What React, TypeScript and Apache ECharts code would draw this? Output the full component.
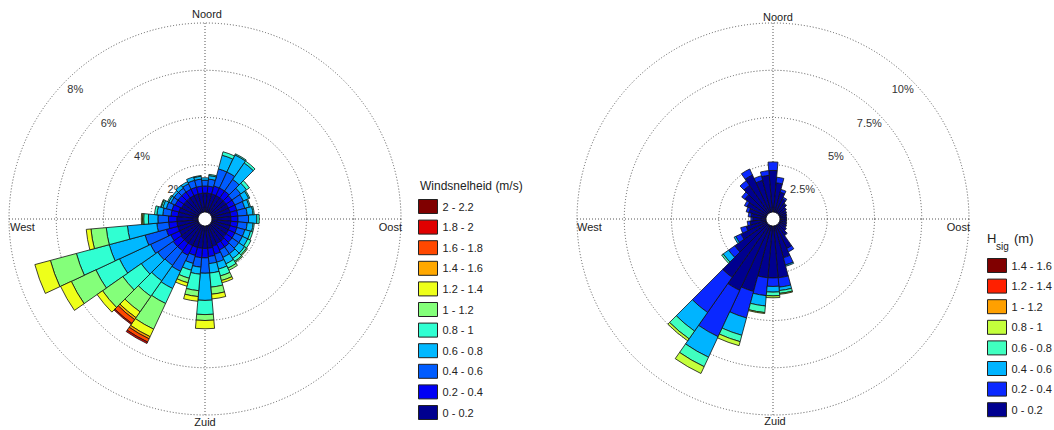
import React, { useEffect, useRef } from "react";
import * as echarts from "echarts";

// 36 direction sectors, clockwise from North (degrees)
const directions = ["0","10","20","30","40","50","60","70","80","90","100","110","120","130","140","150","160","170","180","190","200","210","220","230","240","250","260","270","280","290","300","310","320","330","340","350"];

// ---------- Wind speed rose (percent per direction) ----------
const windClasses = ["0 - 0.2","0.2 - 0.4","0.4 - 0.6","0.6 - 0.8","0.8 - 1","1 - 1.2","1.2 - 1.4","1.4 - 1.6","1.6 - 1.8","1.8 - 2","2 - 2.2"];
const windColors = ["#00008f","#0000f5","#005cff","#00b8ff","#30ffd2","#84ff7a","#eeff1a","#ffa800","#ff4800","#e00000","#800000"];
const wind_0_02   = [.8,.8,.8,.8,.8,.8,.8,.8,.8,.8,.8,.8,.8,.8,.85,.85,.9,.95,.95,.95,.95,.95,.95,.95,.9,.9,.9,.9,.85,.85,.8,.8,.8,.8,.8,.8];
const wind_02_04  = [.3,.3,.35,.35,.35,.3,.3,.3,.3,.3,.3,.3,.3,.3,.3,.3,.35,.35,.4,.4,.35,.45,.4,.4,.4,.5,.35,.35,.3,.3,.3,.3,.3,.3,.3,.3];
const wind_04_06  = [.25,.3,.75,.75,.6,.45,.4,.35,.4,.45,.4,.35,.35,.35,.35,.35,.35,.3,.65,.4,.35,.75,.75,.8,.95,.93,.5,.45,.35,.25,.2,.2,.2,.25,.3,.3];
const wind_06_08  = [.1,.15,.6,.8,.85,.3,.25,.2,.25,.35,.25,.25,.25,.3,.25,.3,.3,.4,1.15,.3,.3,.8,.8,.85,1.45,1.57,1.25,.4,.25,.15,.1,.1,.15,.1,.15,.12];
const wind_08_1   = [0,.05,.15,.05,.1,.15,.05,.05,.05,.1,.05,.1,.15,.1,.15,.2,.3,.6,.6,.7,.35,.7,.8,.95,1.1,1.44,.9,.2,.1,.07,.05,0,0,0,0,.03];
const wind_1_12   = [0,0,0,0,0,0,0,0,0,0,0,0,0,.05,.05,.1,.2,.3,.25,.25,.2,1.2,.8,1.05,1.15,1.14,.65,.05,0,.03,0,0,0,0,0,0];
const wind_12_14  = [0,0,0,0,0,0,0,0,0,0,0,0,0,0,0,0,.1,.2,.35,.2,.15,.35,.3,.28,.5,.68,.2,.05,0,0,0,0,0,0,0,0];
const wind_14_16  = [0,0,0,0,0,0,0,0,0,0,0,0,0,0,0,0,0,0,0,0,0,.1,.1,0,0,0,0,0,0,0,0,0,0,0,0,0];
const wind_16_18  = [0,0,0,0,0,0,0,0,0,0,0,0,0,0,0,0,0,0,0,0,0,.15,.2,0,0,0,0,0,0,0,0,0,0,0,0,0];
const wind_18_2   = [0,0,0,0,0,0,0,0,0,0,0,0,0,0,0,0,0,0,0,0,0,.07,.05,0,0,0,0,0,0,0,0,0,0,0,0,0];
const wind_2_22   = [0,0,0,0,0,0,0,0,0,0,0,0,0,0,0,0,0,0,0,0,0,0,0,0,0,0,0,0,0,0,0,0,0,0,0,0];
const windTicks = [2, 4, 6, 8];
const windMax = 8;

// ---------- Significant wave height rose ----------
const hsigClasses = ["0 - 0.2","0.2 - 0.4","0.4 - 0.6","0.6 - 0.8","0.8 - 1","1 - 1.2","1.2 - 1.4","1.4 - 1.6"];
const hsigColors = ["#000090","#0a28ff","#00b4ff","#40ffc0","#c4ff3c","#ffa000","#ff2000","#800000"];
const hsig_0_02  = [2.2,1.55,1.1,.8,.6,.5,.42,.38,.35,.35,.35,.38,.42,.5,.65,1.35,1.75,2.75,2.75,2.75,3.6,3.8,3.4,2.1,1.5,1.1,.85,.7,.8,.95,1.15,1.45,1.8,2.2,1.75,1.95];
const hsig_02_04 = [.45,.3,.15,.1,.05,0,0,0,0,0,0,0,0,0,.05,.2,.4,.5,.45,.95,1.45,2.7,2.27,.4,.3,.3,.15,.1,.15,.15,.15,.2,.3,.35,.25,.25];
const hsig_04_06 = [0,0,0,0,0,0,0,0,0,0,0,0,0,0,0,0,.07,.18,.3,.55,.95,1.2,1.2,.35,.1,0,0,0,0,0,0,0,0,0,0,0];
const hsig_06_08 = [0,0,0,0,0,0,0,0,0,0,0,0,0,0,0,0,0,.15,.2,.35,.35,.55,.5,.1,0,0,0,0,0,0,0,0,0,0,0,0];
const hsig_08_1  = [0,0,0,0,0,0,0,0,0,0,0,0,0,0,0,0,0,.05,.1,.05,.22,.4,.13,0,0,0,0,0,0,0,0,0,0,0,0,0];
const hsig_1_12  = [0,0,0,0,0,0,0,0,0,0,0,0,0,0,0,0,0,0,0,0,0,0,0,0,0,0,0,0,0,0,0,0,0,0,0,0];
const hsig_12_14 = [0,0,0,0,0,0,0,0,0,0,0,0,0,0,0,0,0,0,0,0,0,0,0,0,0,0,0,0,0,0,0,0,0,0,0,0];
const hsig_14_16 = [0,0,0,0,0,0,0,0,0,0,0,0,0,0,0,0,0,0,0,0,0,0,0,0,0,0,0,0,0,0,0,0,0,0,0,0];
const hsigTicks = [2.5, 5, 7.5, 10];
const hsigMax = 10;

const windSeries = [wind_0_02, wind_02_04, wind_04_06, wind_06_08, wind_08_1, wind_1_12, wind_12_14, wind_14_16, wind_16_18, wind_18_2, wind_2_22];
const hsigSeries = [hsig_0_02, hsig_02_04, hsig_04_06, hsig_06_08, hsig_08_1, hsig_1_12, hsig_12_14, hsig_14_16];

const FONT = "'Liberation Sans', Arial, Helvetica, sans-serif";
const TXT = "#222";
const INNER = 7;
const OUTER = 196;
const LEFT_C = [205, 219];
const RIGHT_C = [773, 219];

export default function App() {
  const ref = useRef<HTMLDivElement>(null);

  useEffect(() => {
    if (!ref.current) return;
    const chart = echarts.init(ref.current, undefined, { renderer: "svg" });

    const labelMap: Record<string, string> = {};
    const series: any[] = [];
    windClasses.forEach((name, i) => {
      const id = "w" + i;
      labelMap[id] = name;
      series.push({
        type: "bar",
        name: id,
        coordinateSystem: "polar",
        polarIndex: 0,
        stack: "wind",
        barCategoryGap: "0%",
        silent: true,
        data: windSeries[i].map((v) => (v > 0 ? v : null)),
        itemStyle: { color: windColors[i], borderColor: "#111", borderWidth: 0.8 },
      });
    });
    hsigClasses.forEach((name, i) => {
      const id = "h" + i;
      labelMap[id] = name;
      series.push({
        type: "bar",
        name: id,
        coordinateSystem: "polar",
        polarIndex: 1,
        stack: "hsig",
        barCategoryGap: "0%",
        silent: true,
        data: hsigSeries[i].map((v) => (v > 0 ? v : null)),
        itemStyle: { color: hsigColors[i], borderColor: "#111", borderWidth: 0.8 },
      });
    });

    const hidden = {
      axisLine: { show: false },
      axisTick: { show: false },
      axisLabel: { show: false },
      splitLine: { show: false },
    };
    const dotted = { show: true, lineStyle: { type: [1, 2], color: "#555", width: 1 } };

    const radiusLabels = (c: number[], ticks: number[], max: number, deg: number) =>
      ticks.map((v) => {
        const r = INNER + (v / max) * (OUTER - INNER) - 12.5;
        const a = (deg * Math.PI) / 180;
        return {
          type: "text",
          z: 1,
          x: c[0] + r * Math.cos(a),
          y: c[1] - r * Math.sin(a),
          style: { text: v + "%", font: `11px ${FONT}`, fill: "#333", align: "center", verticalAlign: "middle" },
        };
      });

    const txt = (text: string, x: number, y: number, align: string, size = 11) => ({
      type: "text",
      z: 50,
      x,
      y,
      style: { text, font: `${size}px ${FONT}`, fill: TXT, align, verticalAlign: "middle" },
    });

    const legendBase = {
      orient: "vertical",
      itemWidth: 19,
      itemHeight: 14,
      itemGap: 5.6,
      padding: 0,
      icon: "rect",
      selectedMode: false,
      formatter: (n: string) => labelMap[n],
      textStyle: { fontSize: 11, color: TXT, fontFamily: FONT },
      itemStyle: { borderColor: "#222", borderWidth: 1 },
    };

    chart.setOption({
      animation: false,
      backgroundColor: "#fff",
      polar: [
        { center: LEFT_C, radius: [INNER, OUTER] },
        { center: RIGHT_C, radius: [INNER, OUTER] },
        { center: LEFT_C, radius: [INNER, OUTER] },
        { center: RIGHT_C, radius: [INNER, OUTER] },
      ],
      angleAxis: [
        { polarIndex: 0, type: "category", data: directions, startAngle: 95, clockwise: true, ...hidden },
        { polarIndex: 1, type: "category", data: directions, startAngle: 95, clockwise: true, ...hidden },
        { polarIndex: 2, type: "value", min: 0, max: 360, interval: 90, startAngle: 90, ...hidden, splitLine: dotted },
        { polarIndex: 3, type: "value", min: 0, max: 360, interval: 90, startAngle: 90, ...hidden, splitLine: dotted },
      ],
      radiusAxis: [
        { polarIndex: 0, type: "value", min: 0, max: windMax, ...hidden },
        { polarIndex: 1, type: "value", min: 0, max: hsigMax, ...hidden },
        { polarIndex: 2, type: "value", min: 0, max: windMax, interval: 2, ...hidden, splitLine: dotted },
        { polarIndex: 3, type: "value", min: 0, max: hsigMax, interval: 2.5, ...hidden, splitLine: dotted },
      ],
      legend: [
        { ...legendBase, left: 418, top: 199, data: windClasses.map((_, i) => "w" + i).reverse() },
        { ...legendBase, left: 987, top: 258, data: hsigClasses.map((_, i) => "h" + i).reverse() },
      ],
      graphic: [
        ...radiusLabels(LEFT_C, windTicks, windMax, 135),
        ...radiusLabels(RIGHT_C, hsigTicks, hsigMax, 45),
        txt("Noord", 207, 14, "center"),
        txt("Zuid", 205, 422, "center"),
        txt("West", 10, 227, "left"),
        txt("Oost", 402, 227, "right"),
        txt("Noord", 778, 17, "center"),
        txt("Zuid", 775, 421, "center"),
        txt("West", 577, 227, "left"),
        txt("Oost", 970, 227, "right"),
        txt("Windsnelheid (m/s)", 420, 186, "left", 12),
        txt("H", 987, 238, "left", 13),
        txt("sig", 996, 246, "left", 10),
        txt("(m)", 1014, 238, "left", 13),
      ],
      series,
    });

    return () => chart.dispose();
  }, []);

  return (
    <div
      ref={ref}
      style={{ position: "absolute", left: 0, top: 0, width: 1054, height: 430, background: "#fff" }}
    />
  );
}
